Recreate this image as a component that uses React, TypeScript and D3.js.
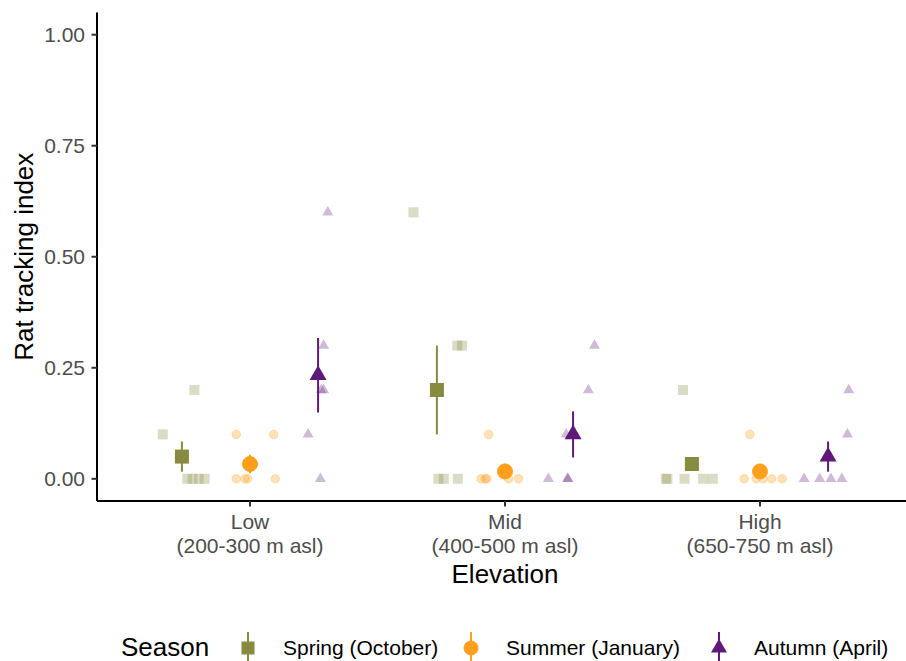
import React from "react";
import * as d3 from "d3";

// elevation bands (x axis)
const elevationNames = ["Low", "Mid", "High"];
const elevationRanges = ["(200-300 m asl)", "(400-500 m asl)", "(650-750 m asl)"];

const seasons = ["Spring (October)", "Summer (January)", "Autumn (April)"];
const seasonColors = ["#878B3F", "#FF9F1C", "#5F1A79"];
const seasonShapes = ["square", "circle", "triangle"];

// raw tracking index per survey line, one list per elevation
const springValues = [
  [0.2, 0.1, 0, 0, 0, 0],
  [0.6, 0.3, 0.3, 0, 0, 0],
  [0.2, 0, 0, 0, 0, 0],
];
const summerValues = [
  [0.1, 0.1, 0, 0, 0, 0],
  [0.1, 0, 0, 0, 0, 0],
  [0.1, 0, 0, 0, 0, 0],
];
const autumnValues = [
  [0.6, 0.3, 0.2, 0.2, 0.1, 0],
  [0.3, 0.2, 0.1, 0, 0, 0],
  [0.2, 0.1, 0, 0, 0, 0],
];

// horizontal jitter (in category units) as it came out in the figure
const springJitter = [
  [0.049, -0.075, 0.021, 0.042, 0.066, 0.089],
  [-0.092, 0.08, 0.098, 0.006, 0.027, 0.082],
  [-0.035, -0.102, -0.096, -0.029, 0.044, 0.082],
];
const summerJitter = [
  [-0.054, 0.093, -0.054, -0.02, -0.009, 0.099],
  [-0.064, -0.094, -0.078, -0.071, 0.014, 0.053],
  [-0.04, -0.062, -0.015, 0.012, 0.046, 0.087],
];
const autumnJitter = [
  [0.038, 0.022, 0.012, 0.022, -0.039, 0.009],
  [0.084, 0.06, -0.027, -0.097, -0.022, -0.02],
  [0.081, 0.076, -0.094, -0.033, 0.011, 0.054],
];

// mean +/- standard error
const springMean = [0.05, 0.2, 0.0333];
const springSE = [0.034, 0.1, 0];
const summerMean = [0.0333, 0.0167, 0.0167];
const summerSE = [0.021, 0.0167, 0.0167];
const autumnMean = [0.2333, 0.1, 0.05];
const autumnSE = [0.084, 0.052, 0.034];

const yTicks = [0, 0.25, 0.5, 0.75, 1];

const allValues = [springValues, summerValues, autumnValues];
const allJitter = [springJitter, summerJitter, autumnJitter];
const allMeans = [springMean, summerMean, autumnMean];
const allSE = [springSE, summerSE, autumnSE];

const W = 906;
const H = 661;
const FONT = "Liberation Sans, Arial, sans-serif";

const Marker = ({ shape, x, y, size, fill, opacity = 1 }) => {
  if (shape === "square") {
    return (
      <rect x={x - size / 2} y={y - size / 2} width={size} height={size}
        fill={fill} fillOpacity={opacity} />
    );
  }
  if (shape === "circle") {
    return (
      <circle cx={x} cy={y} r={size / 2 - 0.5} fill={fill} fillOpacity={opacity}
        stroke={fill} strokeOpacity={opacity} strokeWidth={1} />
    );
  }
  const h = (size * Math.sqrt(3)) / 2;
  const p = `M${x},${y - (h * 2) / 3}L${x + size / 2},${y + h / 3}L${x - size / 2},${y + h / 3}Z`;
  return <path d={p} fill={fill} fillOpacity={opacity} />;
};

export default function App() {
  const margin = { top: 12.5, bottom: 160, left: 97 };
  const panelBottom = H - margin.bottom;

  const x = d3.scaleLinear().domain([-0.6, 2.6]).range([margin.left, margin.left + 255 * 3.2]);
  const y = d3.scaleLinear().domain([-0.05, 1.05]).range([panelBottom, margin.top]);

  const dodge = d3.scalePoint().domain(d3.range(seasons.length)).range([-0.267, 0.267]);

  const jitterSizes = [10, 9.5, 11];
  const meanSizes = [14, 16, 17];

  return (
    <svg width={W} height={H} style={{ position: "absolute", left: 0, top: 0 }} fontFamily={FONT}>
      <rect width={W} height={H} fill="white" />

      {/* raw points */}
      {allValues.map((byElev, s) =>
        byElev.map((vals, e) =>
          vals.map((v, i) => (
            <Marker key={`p${s}-${e}-${i}`} shape={seasonShapes[s]}
              x={x(e + dodge(s) + allJitter[s][e][i])} y={y(v)}
              size={jitterSizes[s]} fill={seasonColors[s]} opacity={0.3} />
          ))
        )
      )}

      {/* mean and SE */}
      {allMeans.map((means, s) =>
        means.map((m, e) => {
          const cx = x(e + dodge(s));
          const se = allSE[s][e];
          return (
            <g key={`m${s}-${e}`}>
              {se > 0 && (
                <line x1={cx} x2={cx} y1={y(m - se)} y2={y(m + se)}
                  stroke={seasonColors[s]} strokeWidth={2} />
              )}
              <Marker shape={seasonShapes[s]} x={cx} y={y(m)} size={meanSizes[s]} fill={seasonColors[s]} />
            </g>
          );
        })
      )}

      {/* axes */}
      <line x1={margin.left} x2={W} y1={panelBottom} y2={panelBottom} stroke="black" strokeWidth={2} />
      <line x1={margin.left} x2={margin.left} y1={margin.top} y2={panelBottom} stroke="black" strokeWidth={2} />

      {yTicks.map((t) => (
        <g key={`yt${t}`}>
          <line x1={margin.left - 5.5} x2={margin.left} y1={y(t)} y2={y(t)} stroke="#333" strokeWidth={2} />
          <text x={margin.left - 12} y={y(t)} dy="0.35em" textAnchor="end" fontSize={21} fill="#4D4D4D">
            {d3.format(".2f")(t)}
          </text>
        </g>
      ))}

      {elevationNames.map((name, e) => (
        <g key={`xt${e}`}>
          <line x1={x(e)} x2={x(e)} y1={panelBottom} y2={panelBottom + 5.5} stroke="#333" strokeWidth={2} />
          <text x={x(e)} y={529} textAnchor="middle" fontSize={21} fill="#4D4D4D">{name}</text>
          <text x={x(e)} y={553} textAnchor="middle" fontSize={21} fill="#4D4D4D">{elevationRanges[e]}</text>
        </g>
      ))}

      <text x={x(1)} y={583} textAnchor="middle" fontSize={26} fill="black">Elevation</text>
      <text transform={`translate(33,${(margin.top + panelBottom) / 2}) rotate(-90)`}
        textAnchor="middle" fontSize={26} fill="black">Rat tracking index</text>

      {/* legend */}
      <text x={121} y={656} fontSize={26} fill="black">Season</text>
      {seasons.map((s, i) => {
        const kx = [248, 471, 719][i];
        return (
          <g key={`lg${i}`}>
            <line x1={kx} x2={kx} y1={632} y2={661} stroke={seasonColors[i]} strokeWidth={2} />
            <Marker shape={seasonShapes[i]} x={kx} y={648} size={meanSizes[i] - 1} fill={seasonColors[i]} />
            <text x={kx + 35} y={655} fontSize={21} fill="black">{s}</text>
          </g>
        );
      })}
    </svg>
  );
}
